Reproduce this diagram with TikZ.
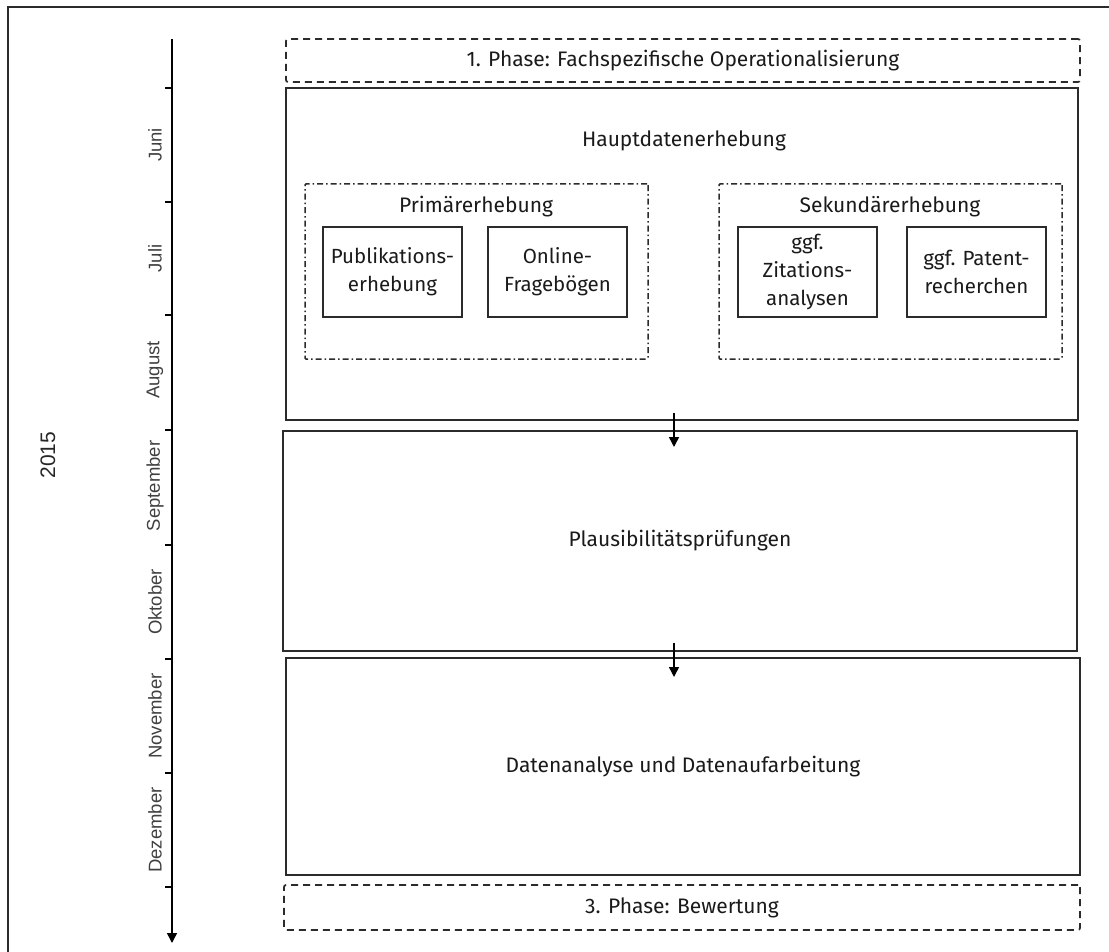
\documentclass[tikz,border=0pt]{standalone}
\usepackage{fontspec}
\setmainfont{Fira Sans}
\newfontfamily\monthfont{Liberation Sans}
\usetikzlibrary{arrows.meta}
\definecolor{ln}{HTML}{2b2b2b}
\definecolor{tx}{HTML}{1a1a1a}
\begin{document}
\begin{tikzpicture}[x=1pt,y=-1pt,
  every node/.style={text=tx,font=\fontsize{21}{28}\selectfont},
  box/.style={draw=ln,line width=1.7pt,inner sep=0pt,outer sep=0pt,align=center},
  inbox/.style={box,minimum width=139pt,minimum height=90pt,font=\fontsize{20.5}{28}\selectfont},
  dashbox/.style={box,dash pattern=on 7pt off 5pt,rounded corners=2pt},
  dotbox/.style={box,line width=1.5pt,dash pattern=on 6pt off 3pt on 1.5pt off 3pt,rounded corners=1pt},
  month/.style={rotate=90,text=black!75,font=\monthfont\fontsize{18.5}{20}\selectfont},
  conn/.style={draw=black,line width=1.5pt,-{Triangle[length=10pt,width=10pt]}}]
\useasboundingbox (0,0) rectangle (1109,952);
% outer frame (only top and left visible)
\draw[ln,line width=1.6pt] (8,952) -- (8,7) -- (1109,7);
% timeline
\coordinate (tlstart) at (172,39);
\coordinate (tlend) at (172,943);
\draw[conn] (tlstart) -- (tlend);
\foreach \y in {88,202,315,430,545,659,773,887}
  \draw[black,line width=1.5pt] (165,\y) -- (172,\y);
\node[month] (m1) at (155,145) {Juni};
\node[month] (m2) at (155,258.5) {Juli};
\node[month] (m3) at (155,370) {August};
\node[month] (m4) at (155,486) {September};
\node[month] (m5) at (155,602) {Oktober};
\node[month] (m6) at (155,716) {November};
\node[month] (m7) at (155,830) {Dezember};
\node[rotate=90,font=\monthfont\fontsize{21}{24}\selectfont,text=black!85] (year) at (48,455) {2015};
% boxes
\node[dashbox,minimum width=794pt,minimum height=43pt] (phase1) at (683,60.5) {1. Phase: Fachspezifische Operationalisierung};
\node[box,minimum width=792pt,minimum height=332pt] (haupt) at (682,254) {};
\node (hauptlabel) at (684,141) {Hauptdatenerhebung};
\node[dotbox,minimum width=343pt,minimum height=175pt] (prim) at (476.5,271.5) {};
\node (primlabel) at (476,207) {Primärerhebung};
\node[inbox] (pub) at (392.5,272) {Publikations-\\erhebung};
\node[inbox] (online) at (557.5,272) {Online-\\Fragebögen};
\node[dotbox,minimum width=343pt,minimum height=175pt] (sek) at (890.5,271.5) {};
\node (seklabel) at (890,207) {Sekundärerhebung};
\node[inbox] (zit) at (807.5,272) {ggf.\\Zitations-\\analysen};
\node[inbox] (pat) at (976.5,272) {ggf. Patent-\\recherchen};
\node[box,minimum width=794pt,minimum height=220pt] (plaus) at (680,541) {Plausibilitätsprüfungen};
\node[box,minimum width=794pt,minimum height=217pt] (daten) at (683,766.5) {Datenanalyse und Datenaufarbeitung};
\node[dashbox,minimum width=796pt,minimum height=45pt] (phase3) at (682,907.5) {3. Phase: Bewertung};
% arrows
\draw[conn] ([xshift=-8pt,yshift=7pt]haupt.south) -- ([xshift=-6pt,yshift=-16pt]plaus.north);
\draw[conn] ([xshift=-6pt,yshift=8pt]plaus.south) -- ([xshift=-9pt,yshift=-19pt]daten.north);
\end{tikzpicture}
\end{document}
